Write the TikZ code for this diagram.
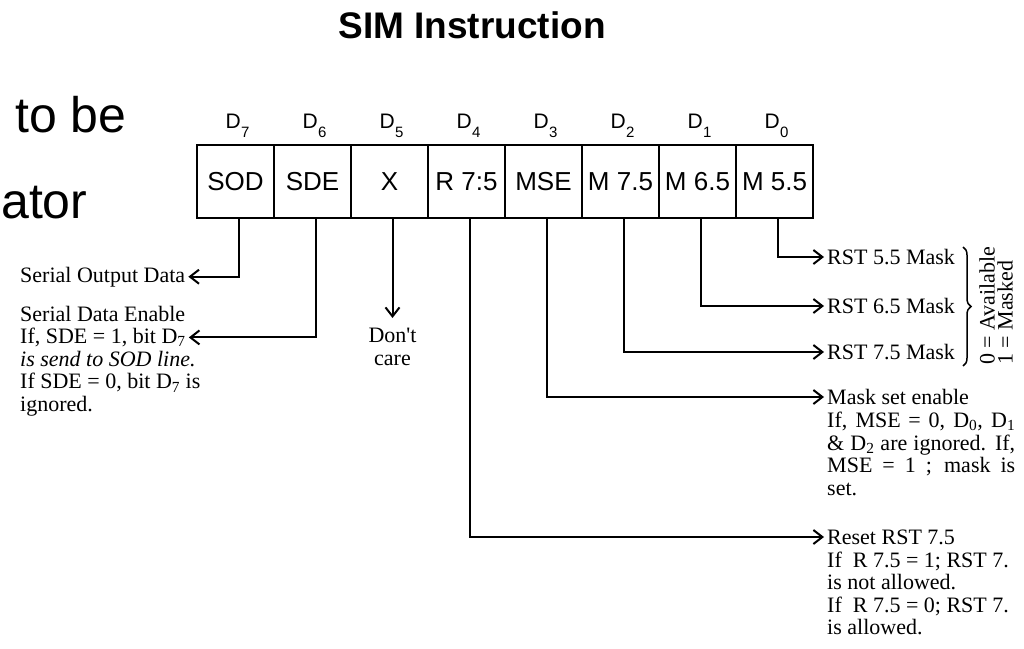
\documentclass[tikz,border=0pt]{standalone}
\usepackage{fontspec}
\setmainfont{Liberation Serif}
\newfontfamily\arialfont{Liberation Sans}
\usetikzlibrary{positioning, arrows.meta, decorations.pathreplacing}
\newcommand{\jline}[1]{\makebox[188pt][s]{#1}}
\newcommand{\dsub}[1]{D\kern0.5pt\raisebox{-9pt}{\fontsize{15}{15}\selectfont#1}}

\begin{document}
\begin{tikzpicture}[
    x=1pt, y=-1pt,
    cell/.style={draw, line width=2pt, minimum width=77pt, minimum height=73pt, inner sep=0pt, outer sep=0pt, font=\arialfont\fontsize{26}{28}\selectfont},
    dlab/.style={anchor=base, inner sep=0pt, font=\arialfont\fontsize{21}{23}\selectfont},
    note/.style={inner xsep=3pt, inner ysep=0pt, align=left, font=\fontsize{22}{22.5}\selectfont},
    slide/.style={anchor=base west, inner sep=0pt, font=\arialfont\fontsize{50}{56}\selectfont},
    arr/.style={-{Straight Barb[length=9pt, width=14pt]}, line width=2pt}
]
\clip (0,0) rectangle (1024,648);
\fill[white] (0,0) rectangle (1024,648);

% slide title and left-over slide text
\node[anchor=base, inner sep=0pt, font=\arialfont\bfseries\fontsize{37}{40}\selectfont] (title) at (472,38) {SIM Instruction};
\node[slide] (tobe) at (15,132) {to be};
\node[slide] (ator) at (1,218) {ator};

% the eight bits
\foreach \n/\t/\d [count=\i] in {sod/SOD/7, sde/SDE/6, xbit/X/5, r75/R 7:5/4, mse/MSE/3, m75/M 7.5/2, m65/M 6.5/1, m55/M 5.5/0} {
  \node[cell] (\n) at ({158.5+77*\i}, 181.5) {\t};
  \node[dlab] (d\d) at ([xshift=2pt, yshift=17pt]\n.north) {\dsub{\d}};
}

% left side
\node[note, anchor=base west] (sodtxt) at (17,282) {Serial Output Data};
\node[note, anchor=base west] (sdetxt) at (17,343.5) {If, SDE = 1, bit D\textsubscript{7}};
\node[note, anchor=base west] (sdehead) at ([yshift=22.5pt]sdetxt.base west) {Serial Data Enable};
\node[note, anchor=north west] (sdebody) at ([yshift=-7.5pt]sdetxt.base west) {\textit{is send to SOD line.}\\If SDE = 0, bit D\textsubscript{7} is\\ignored.};
\node[note, align=center, anchor=north] (dctxt) at ([xshift=3pt, yshift=-110pt]xbit.south) {Don\textquotesingle t\\care};

% right side
\node[note, anchor=west] (rst55) at (824,257) {RST 5.5 Mask};
\node[note, anchor=west] (rst65) at (824,306) {RST 6.5 Mask};
\node[note, anchor=west] (rst75) at (824,352) {RST 7.5 Mask};
\node[note, anchor=west] (msehead) at (824,397) {Mask set enable};
\node[note, anchor=north west] (msebody) at ([yshift=-7.5pt]msehead.base west) {\jline{If, MSE = 0, D\textsubscript{0}, D\textsubscript{1}}\\\jline{\& D\textsubscript{2} are ignored. If,}\\\jline{MSE = 1 ; mask is}\\set.};
\node[note, anchor=west] (r75head) at (824,537) {Reset RST 7.5};
\node[note, anchor=north west] (r75body) at ([yshift=-7.5pt]r75head.base west) {If\ \ R 7.5 = 1; RST 7.\\is not allowed.\\If\ \ R 7.5 = 0; RST 7.\\is allowed.};
\draw[decorate, decoration={brace, amplitude=8pt}, line width=1.5pt] (963,247) -- (963,366);
\node[note, anchor=west, rotate=90] (avail) at (987,368) {0 = Available};
\node[note, anchor=west, rotate=90] (masked) at (1005,368) {1 = Masked};

% connectors
\draw[arr] ([xshift=3pt]sod.south) |- (sodtxt.east);
\draw[arr] ([xshift=3pt]sde.south) |- (sdetxt.east);
\draw[arr, shorten >=10pt] ([xshift=3pt]xbit.south) -- (dctxt.north);
\draw[arr] ([xshift=3pt]r75.south) |- (r75head.west);
\draw[arr] ([xshift=3pt]mse.south) |- (msehead.west);
\draw[arr] ([xshift=3pt]m75.south) |- (rst75.west);
\draw[arr] ([xshift=3pt]m65.south) |- (rst65.west);
\draw[arr] ([xshift=3pt]m55.south) |- (rst55.west);
\end{tikzpicture}
\end{document}
